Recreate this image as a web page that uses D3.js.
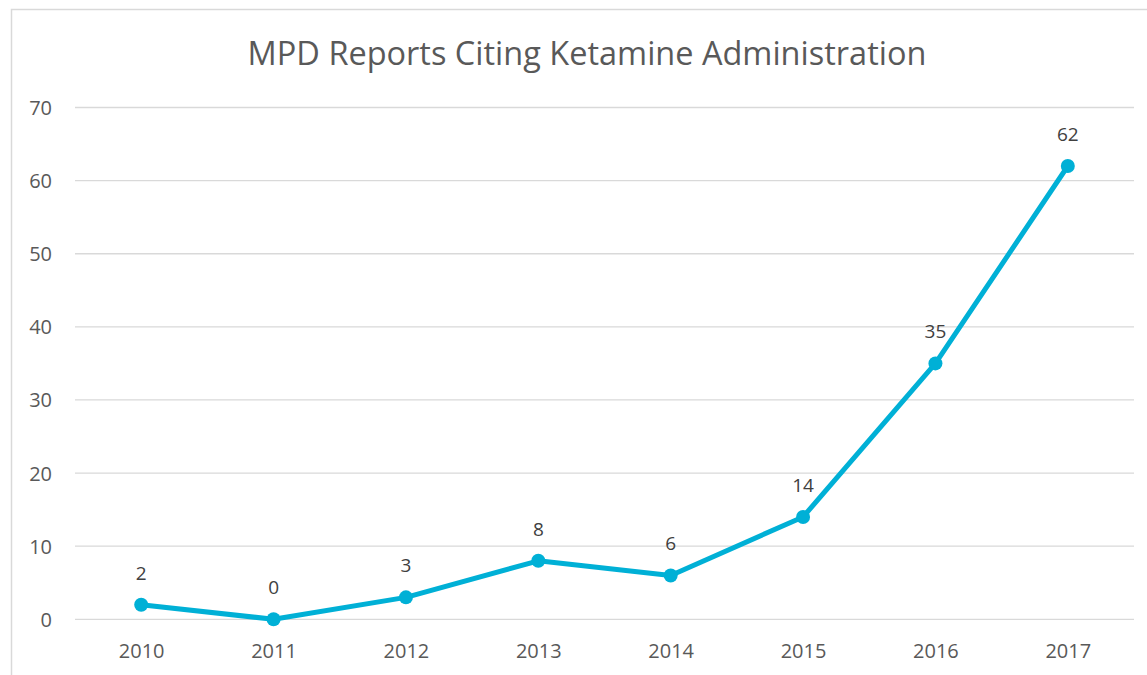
<!DOCTYPE html>
<html><head><meta charset="utf-8">
<script src="https://cdn.jsdelivr.net/npm/d3@7"></script>
<style>html,body{margin:0;padding:0;background:#fff;}svg{display:block;}</style>
</head><body>
<svg id="chart" width="1147" height="675"></svg>
<script>
const categories = ["2010","2011","2012","2013","2014","2015","2016","2017"];
const values = [2, 0, 3, 8, 6, 14, 35, 62];
const yTicks = [0, 10, 20, 30, 40, 50, 60, 70];
const title = "MPD Reports Citing Ketamine Administration";

const svg = d3.select("#chart");
const font = "'Open Sans', sans-serif";
const textColor = "#595959";
const lineColor = "#00B0D6";

// chart border
svg.append("rect").attr("x", 11.5).attr("y", 9.5).attr("width", 1200).attr("height", 800)
  .attr("fill", "none").attr("stroke", "#d9d9d9").attr("stroke-width", 1.5);

const pLeft = 75, pRight = 1134, pTop = 107.5, pBottom = 619.3;
const x = d3.scalePoint().domain(categories).range([pLeft, pRight]).padding(0.5);
const y = d3.scaleLinear().domain([0, 70]).range([pBottom, pTop]);

// gridlines
svg.append("g").selectAll("line").data(yTicks).join("line")
  .attr("x1", pLeft).attr("x2", pRight)
  .attr("y1", d => y(d)).attr("y2", d => y(d))
  .attr("stroke", "#d9d9d9").attr("stroke-width", 1.3);

// y axis labels
const yAxis = d3.axisLeft(y).tickValues(yTicks).tickSize(0).tickPadding(0);
const yg = svg.append("g").attr("transform", `translate(52,0)`).call(yAxis);
yg.select(".domain").remove();
yg.selectAll("text").attr("font-family", font).attr("font-size", 20).attr("fill", textColor).attr("dy", "0.35em");

// x axis labels
const xAxis = d3.axisBottom(x).tickSize(0).tickPadding(0);
const xg = svg.append("g").attr("transform", `translate(0,${pBottom})`).call(xAxis);
xg.select(".domain").remove();
xg.selectAll("text").attr("font-family", font).attr("font-size", 20).attr("fill", textColor).attr("dy", null).attr("y", 39);

// line
const line = d3.line().x((d, i) => x(categories[i])).y(d => y(d));
svg.append("path").datum(values).attr("d", line)
  .attr("fill", "none").attr("stroke", lineColor).attr("stroke-width", 5)
  .attr("stroke-linejoin", "round").attr("stroke-linecap", "round");

svg.append("g").selectAll("circle").data(values).join("circle")
  .attr("cx", (d, i) => x(categories[i])).attr("cy", d => y(d)).attr("r", 7)
  .attr("fill", lineColor);

svg.append("g").selectAll("text").data(values).join("text")
  .attr("x", (d, i) => x(categories[i])).attr("y", d => y(d) - 25)
  .attr("text-anchor", "middle").attr("font-family", font).attr("font-size", 19)
  .attr("fill", "#404040").text(d => d);

// title
const t = svg.append("text").attr("x", 587).attr("y", 65).attr("text-anchor", "middle")
  .attr("font-family", font).attr("font-size", 32).attr("fill", textColor).text(title);
const w = t.node().getComputedTextLength();
t.attr("font-size", 32 * 679 / w);
</script>
</body></html>
